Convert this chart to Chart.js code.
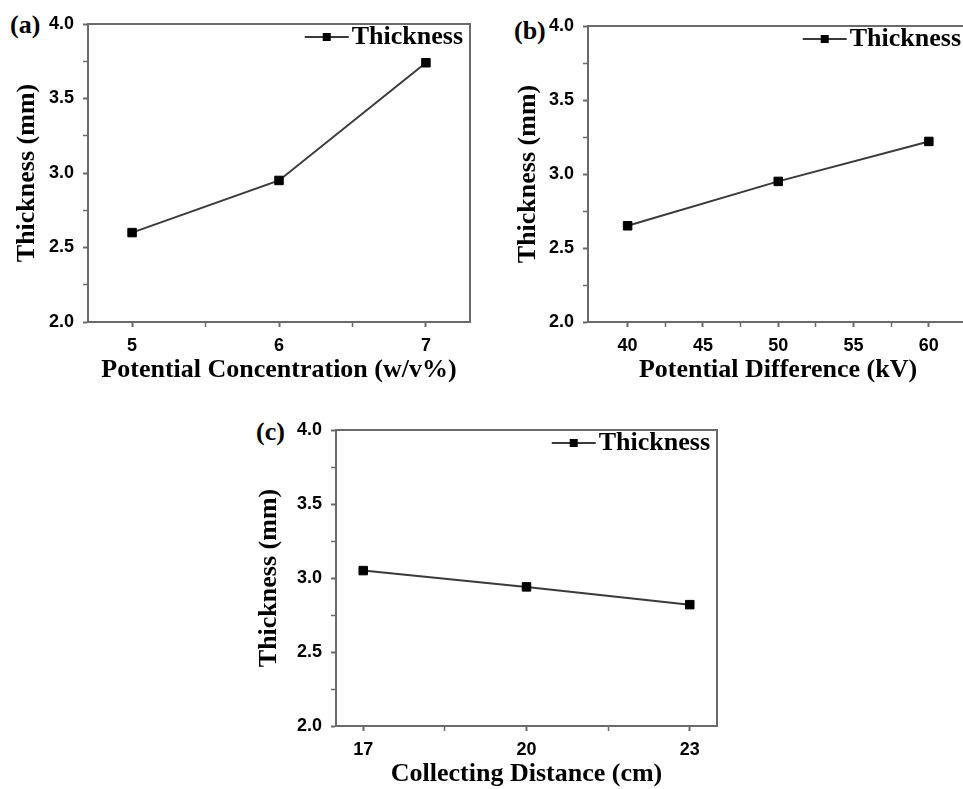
<!DOCTYPE html>
<html lang="en">
<head>
<meta charset="UTF-8" />
<title>Thickness</title>
<style>
  body { margin: 0; width: 963px; height: 789px; overflow: hidden; background: #fff; position: relative; }
  .panel { position: absolute; }
  .tag { position: absolute; font: bold 26px "Liberation Serif", serif; line-height: 26px; color: #000; }
</style>
</head>
<body>
  <span class="tag" style="left:10px; top:12px">(a)</span>
  <span class="tag" style="left:514px; top:18px">(b)</span>
  <span class="tag" style="left:256px; top:419px">(c)</span>
  <canvas id="chart_conc" class="panel" width="477" height="382" style="left:0px; top:4px"></canvas>
  <canvas id="chart_volt" class="panel" width="475" height="380" style="left:500px; top:6px"></canvas>
  <canvas id="chart_dist" class="panel" width="476" height="380" style="left:248px; top:410px"></canvas>

<script src="https://cdn.jsdelivr.net/npm/chart.js@4"></script>
<script>
// thickness vs concentration
const concValues = [5, 6, 7];
const concThickness = [2.60, 2.95, 3.74];
const concMinor = [5.5, 6.5];

// thickness vs voltage
const voltValues = [40, 50, 60];
const voltThickness = [2.65, 2.95, 3.22];
const voltMajor = [40, 45, 50, 55, 60];
const voltMinor = [42.5, 47.5, 52.5, 57.5];

// thickness vs distance
const distValues = [17, 20, 23];
const distThickness = [3.05, 2.94, 2.82];
const distMinor = [18.5, 21.5];

const yMajor = [2.0, 2.5, 3.0, 3.5, 4.0];
const yMinor = [2.25, 2.75, 3.25, 3.75];

const seriesName = 'Thickness';
const yTitle = 'Thickness (mm)';

const frameColor = '#6a6a6a';
const lineColor = '#3a3a3a';
const serif = '"Liberation Serif", "Times New Roman", serif';
const sans = '"Liberation Sans", Arial, sans-serif';

// builds the tick list from major + minor positions
function setTicks(major, minor) {
  return function (scale) {
    const all = major.map(v => ({ value: v, major: true }))
      .concat(minor.map(v => ({ value: v, major: false })));
    all.sort((a, b) => a.value - b.value);
    scale.ticks = all;
  };
}

// closes the box round the plot area
const frame = {
  id: 'frame',
  beforeDatasetsDraw(chart) {
    const { ctx, chartArea: a } = chart;
    ctx.save();
    ctx.strokeStyle = frameColor;
    ctx.lineWidth = 2;
    ctx.strokeRect(a.left, a.top, a.right - a.left, a.bottom - a.top);
    ctx.restore();
  }
};

// legend: line-marker-line sample and label, top right inside the plot
const legendSample = {
  id: 'legendSample',
  afterDraw(chart) {
    const { ctx, chartArea } = chart;
    const ds = chart.data.datasets[0];
    ctx.save();
    ctx.font = 'bold 26px ' + serif;
    ctx.textBaseline = 'middle';
    ctx.textAlign = 'left';
    const w = ctx.measureText(ds.label).width;
    const y = chartArea.top + 13;
    const tx = chartArea.right - 7 - w;
    ctx.fillStyle = '#000';
    ctx.fillText(ds.label, tx, y);
    ctx.strokeStyle = ds.borderColor;
    ctx.lineWidth = 2;
    ctx.beginPath();
    ctx.moveTo(tx - 47, y);
    ctx.lineTo(tx - 3, y);
    ctx.stroke();
    ctx.fillStyle = '#000';
    ctx.fillRect(tx - 29, y - 4, 8, 8);
    ctx.restore();
  }
};

function create_chart(id, xs, ys, xMin, xMax, xMajor, xMinor, xTitle, yTitlePad) {
  const ctx = document.getElementById(id);
  const points = xs.map((x, i) => ({ x: x, y: ys[i] }));
  return new Chart(ctx, {
    type: 'line',
    data: {
      datasets: [{
        label: seriesName,
        data: points,
        borderColor: lineColor,
        borderWidth: 2,
        pointStyle: 'rect',
        pointRadius: 6,
        pointBackgroundColor: '#000',
        pointBorderColor: '#000',
        pointBorderWidth: 1
      }]
    },
    options: {
      responsive: false,
      animation: false,
      layout: { padding: { top: 20, right: 4, left: 0, bottom: 0 } },
      plugins: { legend: { display: false }, tooltip: { enabled: false } },
      scales: {
        x: {
          type: 'linear',
          min: xMin,
          max: xMax,
          afterBuildTicks: setTicks(xMajor, xMinor),
          afterFit(scale) { scale.height = 64; },
          border: { color: frameColor, width: 2 },
          grid: {
            drawOnChartArea: false,
            tickLength: 5,
            tickColor: frameColor,
            tickWidth: c => (c.tick && c.tick.major ? 2 : 1.5)
          },
          ticks: {
            padding: 8,
            color: '#000',
            font: { family: sans, size: 18, weight: 'bold' },
            maxRotation: 0,
            autoSkip: false,
            callback: (v, i, t) => (t[i].major ? String(v) : '')
          },
          title: {
            display: true,
            text: xTitle,
            color: '#000',
            font: { family: serif, size: 26, weight: 'bold' },
            padding: { top: 0, bottom: 0 }
          }
        },
        y: {
          type: 'linear',
          min: 2,
          max: 4,
          afterBuildTicks: setTicks(yMajor, yMinor),
          afterFit(scale) { scale.width = 88; },
          border: { color: frameColor, width: 2 },
          grid: {
            drawOnChartArea: false,
            tickLength: 5,
            tickColor: frameColor,
            tickWidth: c => (c.tick && c.tick.major ? 2 : 1.5)
          },
          ticks: {
            padding: 9,
            color: '#000',
            font: { family: sans, size: 18, weight: 'bold' },
            autoSkip: false,
            callback: (v, i, t) => (t[i].major ? v.toFixed(1) : '')
          },
          title: {
            display: true,
            text: yTitle,
            color: '#000',
            font: { family: serif, size: 26, weight: 'bold' },
            padding: { top: yTitlePad, bottom: 0 }
          }
        }
      }
    },
    plugins: [frame, legendSample]
  });
}

create_chart('chart_conc', concValues, concThickness, 4.7, 7.3, concValues, concMinor,
  'Potential Concentration (w/v%)', 12);
create_chart('chart_volt', voltValues, voltThickness, 37.37, 62.6, voltMajor, voltMinor,
  'Potential Difference (kV)', 13);
create_chart('chart_dist', distValues, distThickness, 16.5, 23.5, distValues, distMinor,
  'Collecting Distance (cm)', 6);
</script>
</body>
</html>
